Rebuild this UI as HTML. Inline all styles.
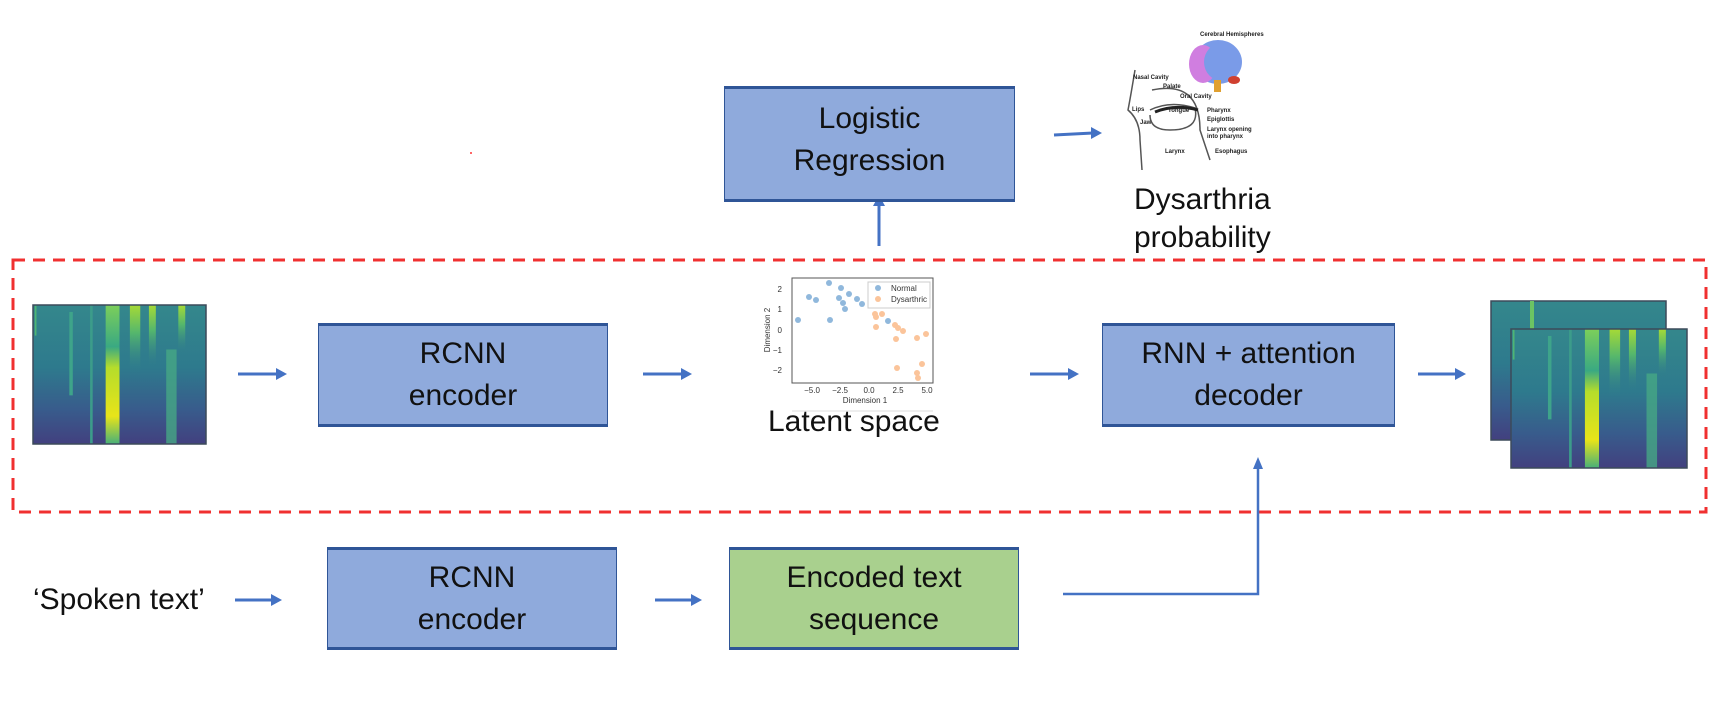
<!DOCTYPE html>
<html><head><meta charset="utf-8"><style>
body{margin:0;width:1716px;height:712px;background:#fff;position:relative;overflow:hidden;font-family:"Liberation Sans",sans-serif}
.box{position:absolute;background:#8faadc;border:1px solid #2f5597;border-top:3px solid #2f5597;border-bottom:3px solid #2f5597;box-sizing:border-box;display:flex;align-items:center;justify-content:center;text-align:center;font-size:30px;line-height:42px;color:#111}
.t{position:absolute;font-size:30px;line-height:38px;color:#111}
svg{position:absolute;left:0;top:0}
</style></head><body>
<svg width="1716" height="712" viewBox="0 0 1716 712">
<defs>
<linearGradient id="bg" x1="0" y1="0" x2="0" y2="1"><stop offset="0" stop-color="#34878c"/><stop offset="0.45" stop-color="#2e7a8d"/><stop offset="0.75" stop-color="#385c8c"/><stop offset="1" stop-color="#42407f"/></linearGradient>
<linearGradient id="hot" x1="0" y1="0" x2="0" y2="1"><stop offset="0" stop-color="#7ccf5a"/><stop offset="0.3" stop-color="#3aa982"/><stop offset="0.45" stop-color="#b5dd2b"/><stop offset="0.8" stop-color="#e8e419"/><stop offset="1" stop-color="#48b07a"/></linearGradient>
<linearGradient id="top" x1="0" y1="0" x2="0" y2="1"><stop offset="0" stop-color="#a5da36"/><stop offset="0.4" stop-color="#55b76c"/><stop offset="1" stop-color="#2e7a8d" stop-opacity="0"/></linearGradient>
<g id="spec">
<rect x="0" y="0" width="100" height="100" fill="url(#bg)"/>
<rect x="1" y="0" width="1" height="22" fill="#4fb574"/>
<rect x="21" y="5" width="2" height="60" fill="#3ea48a"/>
<rect x="33" y="0" width="1.5" height="100" fill="#3c9c8a"/>
<rect x="42" y="0" width="8" height="100" fill="url(#hot)"/>
<rect x="56" y="0" width="6" height="50" fill="url(#top)"/>
<rect x="67" y="0" width="4" height="45" fill="url(#top)"/>
<rect x="77" y="32" width="6" height="68" fill="#46a885" opacity="0.8"/>
<rect x="84" y="0" width="4" height="35" fill="url(#top)"/>
</g>
</defs>
<rect x="13" y="260" width="1693" height="252" fill="none" stroke="#f03030" stroke-width="3" stroke-dasharray="12,8"/>
<g transform="translate(33,305) scale(1.73,1.39)"><use href="#spec"/></g>
<rect x="33" y="305" width="173" height="139" fill="none" stroke="#3c4a5a" stroke-width="1.5"/>
<rect x="1491" y="301" width="175" height="139" fill="url(#bg)" stroke="#3c4a5a" stroke-width="1.5"/>
<rect x="1530" y="301" width="4" height="30" fill="#6cc463"/>
<g transform="translate(1511,329) scale(1.76,1.39)"><use href="#spec"/></g>
<rect x="1511" y="329" width="176" height="139" fill="none" stroke="#3c4a5a" stroke-width="1.5"/>
<rect x="792" y="278" width="141" height="105" fill="#fff" stroke="#555" stroke-width="1"/>
<line x1="792" y1="411" x2="933" y2="411" stroke="#ddd"/>
<g fill="#90b8dc">
<circle cx="798" cy="320" r="3"/><circle cx="809" cy="297" r="3"/><circle cx="816" cy="300" r="3"/><circle cx="829" cy="283" r="3"/><circle cx="830" cy="320" r="3"/><circle cx="841" cy="288" r="3"/><circle cx="839" cy="298" r="3"/><circle cx="843" cy="303" r="3"/><circle cx="845" cy="309" r="3"/><circle cx="849" cy="294" r="3"/><circle cx="857" cy="299" r="3"/><circle cx="862" cy="304" r="3"/><circle cx="888" cy="321" r="3"/>
</g>
<g fill="#fbc49a">
<circle cx="875" cy="314" r="3"/><circle cx="876" cy="317" r="3"/><circle cx="882" cy="314" r="3"/><circle cx="876" cy="327" r="3"/><circle cx="895" cy="325" r="3"/><circle cx="898" cy="328" r="3"/><circle cx="903" cy="331" r="3"/><circle cx="896" cy="339" r="3"/><circle cx="917" cy="338" r="3"/><circle cx="926" cy="334" r="3"/><circle cx="897" cy="368" r="3"/><circle cx="922" cy="364" r="3"/><circle cx="917" cy="373" r="3"/><circle cx="918" cy="378" r="3"/>
</g>
<rect x="868" y="282" width="62" height="26" fill="#fff" stroke="#ccc"/>
<circle cx="878" cy="288" r="3" fill="#90b8dc"/><circle cx="878" cy="299" r="3" fill="#fbc49a"/>
<g font-family="Liberation Sans" font-size="8" fill="#333">
<text x="891" y="291">Normal</text><text x="891" y="302">Dysarthric</text>
<text x="782" y="292" text-anchor="end">2</text><text x="782" y="312" text-anchor="end">1</text><text x="782" y="333" text-anchor="end">0</text><text x="782" y="353" text-anchor="end">−1</text><text x="782" y="373" text-anchor="end">−2</text>
<text x="812" y="393" text-anchor="middle">−5.0</text><text x="840" y="393" text-anchor="middle">−2.5</text><text x="869" y="393" text-anchor="middle">0.0</text><text x="898" y="393" text-anchor="middle">2.5</text><text x="927" y="393" text-anchor="middle">5.0</text>
<text x="865" y="403" text-anchor="middle">Dimension 1</text>
<text transform="translate(770,330) rotate(-90)" text-anchor="middle">Dimension 2</text>
</g>
<ellipse cx="1218" cy="62" rx="24" ry="22" fill="#7a9be8"/>
<ellipse cx="1203" cy="64" rx="14" ry="19" fill="#d07ee0"/>
<ellipse cx="1222" cy="62" rx="18" ry="19" fill="#7a9be8"/>
<rect x="1214" y="80" width="7" height="12" fill="#e0a030"/>
<ellipse cx="1234" cy="80" rx="6" ry="4" fill="#d04030"/>
<path d="M1135 70 Q1130 100 1128 110 Q1140 120 1140 140 L1142 170 M1152 90 Q1200 80 1200 130 L1210 160 M1150 110 Q1170 100 1195 108 Q1200 130 1170 130 Q1150 130 1150 115" fill="none" stroke="#555" stroke-width="1.5"/>
<path d="M1155 112 Q1175 104 1198 110" fill="none" stroke="#222" stroke-width="3"/>
<g font-family="Liberation Sans" font-size="6" font-weight="bold" fill="#222">
<text x="1200" y="36">Cerebral Hemispheres</text><text x="1133" y="79">Nasal Cavity</text><text x="1163" y="88">Palate</text><text x="1180" y="98">Oral Cavity</text><text x="1132" y="111">Lips</text><text x="1168" y="112">Tongue</text><text x="1140" y="124">Jaw</text><text x="1207" y="112">Pharynx</text><text x="1207" y="121">Epiglottis</text><text x="1207" y="131">Larynx opening</text><text x="1207" y="138">into pharynx</text><text x="1165" y="153">Larynx</text><text x="1215" y="153">Esophagus</text>
</g>
<g stroke="#4472c4" stroke-width="3" fill="#4472c4">
<line x1="238" y1="374" x2="278" y2="374"/><polygon points="276,368 287,374 276,380" stroke="none"/>
<line x1="643" y1="374" x2="683" y2="374"/><polygon points="681,368 692,374 681,380" stroke="none"/>
<line x1="1030" y1="374" x2="1070" y2="374"/><polygon points="1068,368 1079,374 1068,380" stroke="none"/>
<line x1="1418" y1="374" x2="1457" y2="374"/><polygon points="1455,368 1466,374 1455,380" stroke="none"/>
<line x1="1054" y1="135" x2="1093" y2="133"/><polygon points="1091,127 1102,133 1091,139" stroke="none"/>
<line x1="879" y1="246" x2="879" y2="204"/><polygon points="873,206 879,195 885,206" stroke="none"/>
<line x1="235" y1="600" x2="273" y2="600"/><polygon points="271,594 282,600 271,606" stroke="none"/>
<line x1="655" y1="600" x2="693" y2="600"/><polygon points="691,594 702,600 691,606" stroke="none"/>
<polyline points="1063,594 1258,594 1258,467" fill="none" stroke-width="2.5"/><polygon points="1253,469 1258,457 1263,469" stroke="none"/>
</g>
<rect x="470" y="152" width="2" height="2" fill="#f66"/>
</svg>
<div class="box" style="left:724px;top:86px;width:291px;height:116px;padding-bottom:8px">Logistic<br>Regression</div>
<div class="box" style="left:318px;top:323px;width:290px;height:104px">RCNN<br>encoder</div>
<div class="box" style="left:1102px;top:323px;width:293px;height:104px">RNN + attention<br>decoder</div>
<div class="box" style="left:327px;top:547px;width:290px;height:103px">RCNN<br>encoder</div>
<div class="box" style="left:729px;top:547px;width:290px;height:103px;background:#a9d08e">Encoded text<br>sequence</div>
<div class="t" style="left:1134px;top:181px">Dysarthria<br>probability</div>
<div class="t" style="left:768px;top:403px">Latent space</div>
<div class="t" style="left:33px;top:581px">‘Spoken text’</div>
</body></html>
